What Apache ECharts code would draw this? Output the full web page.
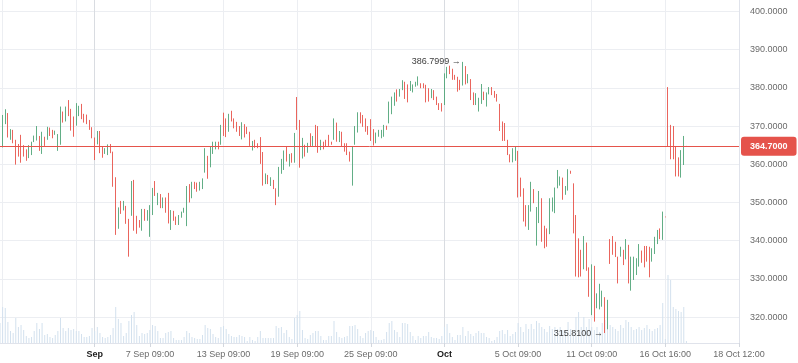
<!DOCTYPE html>
<html><head><meta charset="utf-8">
<script src="https://cdn.jsdelivr.net/npm/echarts@6/dist/echarts.min.js"></script>
<style>html,body{margin:0;padding:0;background:#fff}#c{width:798px;height:363px}</style>
</head><body><div id="c"></div>
<script>
// candle open / close values, one per slot (left to right)
const opens = [
356.8,364.4,370.5,373.4,366.4,369.0,366.4,365.3,367.7,365.0,
363.9,361.6,362.4,365.8,366.2,367.4,362.7,367.2,366.4,369.6,
369.0,367.7,363.5,365.1,373.8,371.2,376.8,374.5,372.5,370.1,
372.6,375.8,373.2,373.0,371.6,369.7,367.0,365.2,368.7,364.6,
362.7,362.4,365.3,363.3,356.6,343.1,350.4,347.9,349.1,345.7,
346.5,355.9,346.5,345.4,342.6,348.3,345.2,341.0,346.7,355.6,
349.3,352.2,348.5,351.3,352.5,342.8,347.8,346.3,344.1,346.0,
347.3,343.8,354.8,351.1,355.4,355.2,353.1,353.5,357.8,362.2,
359.2,362.7,363.9,365.9,365.1,373.5,372.0,368.5,374.0,372.0,
371.1,370.0,366.5,370.5,369.8,368.5,363.6,366.4,365.5,367.1,
363.2,354.8,357.2,354.3,355.9,353.7,351.5,357.5,358.5,364.6,
359.4,362.9,360.4,377.6,371.6,361.5,365.1,363.0,368.1,364.8,
370.3,370.0,363.7,365.9,366.4,367.7,365.9,366.4,370.9,365.8,
368.5,365.5,365.5,363.3,354.4,365.1,368.3,373.6,372.9,372.0,
370.0,371.8,369.2,365.5,367.2,366.8,367.2,370.1,370.7,373.1,
375.3,379.6,377.7,379.4,381.6,380.9,379.2,378.8,380.3,380.6,
381.2,381.2,380.8,379.9,377.3,379.4,377.7,376.0,376.0,375.5,
382.5,385.8,385.0,383.4,382.9,382.1,380.6,385.7,381.2,382.3,
378.8,375.5,373.8,375.8,379.0,375.1,378.3,380.2,379.2,378.4,
375.8,371.2,370.8,366.4,362.6,360.5,360.9,363.5,356.5,353.7,
349.3,342.8,347.6,353.5,338.7,344.6,351.1,343.9,343.2,341.7,
347.6,347.2,353.7,354.4,356.5,352.0,353.1,358.3,355.0,346.7,
340.6,337.6,332.5,339.5,333.0,320.5,333.4,322.3,322.0,322.7,
325.2,316.8,340.4,341.2,339.7,335.8,335.8,337.6,335.1,338.9,
326.9,329.7,331.0,333.2,337.4,338.6,338.6,338.4,334.5,336.5,
339.1,343.2,340.2,346.3,380.2,370.3,370.0,364.6,361.8,356.5,
359.8,364.8
];
const closes = [
359.0,372.9,374.4,367.0,369.2,365.5,359.9,362.0,360.4,362.0,
360.9,365.0,365.9,367.5,370.0,363.5,368.5,364.8,369.8,367.4,
366.8,368.8,367.9,375.1,370.9,375.1,372.6,368.8,367.2,376.0,
375.3,371.8,370.9,370.5,369.0,366.8,361.1,368.7,362.9,361.7,
364.2,365.2,362.9,354.1,341.5,348.7,347.0,350.4,344.4,335.8,
355.6,342.6,341.8,343.4,348.3,345.2,348.0,349.3,353.8,351.7,
352.5,348.5,351.3,347.3,344.5,348.0,345.2,344.1,346.7,347.6,
348.6,354.3,350.0,355.4,353.5,352.8,355.4,356.3,364.2,356.2,
364.6,365.9,365.9,363.9,370.3,367.4,367.1,373.2,371.2,369.4,
368.5,367.4,371.0,367.0,367.9,364.8,366.1,364.3,364.2,360.1,
354.4,357.6,354.8,356.6,353.5,349.3,359.3,361.4,363.6,360.7,
362.7,360.4,368.2,369.0,359.1,366.9,362.0,365.6,364.6,367.4,
364.5,363.0,366.4,363.9,364.6,364.8,365.1,372.0,365.9,368.7,
364.6,363.3,362.4,360.7,364.6,370.0,373.6,370.7,369.8,368.5,
367.7,366.1,364.9,368.3,369.0,369.0,370.3,369.0,376.4,377.7,
378.8,376.4,379.7,382.0,377.1,376.2,381.8,380.9,381.6,383.0,
379.9,379.9,376.2,376.4,379.7,376.8,375.5,374.2,373.8,383.8,
385.5,383.6,382.1,382.1,379.0,379.4,386.7999,380.9,383.6,376.8,
375.5,378.6,377.4,381.0,376.8,378.8,380.2,378.1,377.4,376.4,
368.7,366.1,366.1,362.4,360.5,364.2,364.6,351.3,351.5,345.0,
343.7,349.3,355.4,349.8,348.8,353.0,339.7,338.0,338.4,351.1,
351.3,353.9,358.5,356.8,350.7,354.3,358.7,357.5,341.9,330.6,
330.4,330.6,341.2,332.1,325.3,333.8,318.8,326.2,328.7,326.9,
315.81,324.5,333.9,336.3,335.7,328.8,338.4,333.6,340.4,328.8,
335.8,335.8,335.4,339.1,334.2,333.0,334.5,330.4,338.0,341.0,
342.8,340.4,347.6,346.1,364.6,361.3,361.3,356.8,356.8,363.7,
367.4,364.7
];
// volume (relative units)
const volumes = [
20,36,35,21,12,10,25,16,18,13,7,5,6,12,20,14,20,8,9,6,
5,8,12,25,15,12,15,13,14,12,12,9,6,6,7,15,12,16,10,6,
5,6,8,15,36,24,20,7,10,22,28,31,18,7,10,9,10,13,18,17,
12,5,5,10,11,12,5,3,3,3,6,12,10,6,5,4,4,8,18,15,
14,9,6,5,16,17,14,9,7,6,6,8,7,6,2,6,3,2,6,12,
5,5,5,5,5,17,15,16,10,13,6,4,25,28,32,13,5,4,8,10,
12,12,7,3,3,7,7,22,11,6,5,6,7,17,17,18,14,7,5,10,
12,13,12,6,3,3,4,11,20,22,13,11,6,20,20,19,11,7,3,7,
5,7,7,11,6,5,5,4,7,16,19,10,6,3,8,8,16,7,12,9,
7,10,12,10,10,6,5,2,3,6,12,13,9,13,7,9,11,20,16,11,
19,14,19,14,22,20,16,14,11,17,14,16,14,16,13,12,21,14,12,26,
31,16,26,16,24,16,13,16,11,20,23,26,18,16,14,12,18,15,23,21,
16,13,14,16,13,15,18,14,12,14,15,18,40,4,68,63,36,34,32,31,
36,2
];
const slotCount = 282;
const tickIndex = [36,57,85,113,141,169,197,225,253,281];
const tickLabels = ['Sep','7 Sep 09:00','13 Sep 09:00','19 Sep 09:00','25 Sep 09:00','Oct','5 Oct 09:00','11 Oct 09:00','16 Oct 16:00','18 Oct 12:00'];
const monthIndex = [36,169];
const gridLineIndex = [1,29,36,57,85,113,141,169,197,225,253,281];
const priceTicks = [320,330,340,350,360,370,380,390,400];
const priceMin = 313.2, priceMax = 403.0;
const lastPrice = 364.7;

const UP = '#50a578', DOWN = '#e8534b', PRICE = '#e5534b';
const slots = Array.from({length: slotCount}, (_, i) => String(i));
const candles = opens.map((o, i) => [o, closes[i], Math.min(o, closes[i]), Math.max(o, closes[i])]);
const lineColors = gridLineIndex.map(i => monthIndex.includes(i) ? '#d9dce1' : '#eceef2');
const FONT = 'Liberation Sans';

const chart = echarts.init(document.getElementById('c'), null, {renderer: 'canvas'});
chart.setOption({
  animation: false,
  backgroundColor: '#ffffff',
  textStyle: {fontFamily: FONT},
  grid: {left: 0, right: 59, top: 0, bottom: 20, containLabel: false, outerBoundsMode: 'none'},
  xAxis: {
    type: 'category', data: slots, boundaryGap: false,
    axisLine: {show: true, lineStyle: {color: '#e0e3eb', width: 1}},
    axisTick: {show: true, length: 4, interval: (i) => tickIndex.includes(i), lineStyle: {color: '#d3d7de'}},
    axisLabel: {
      interval: (i) => tickIndex.includes(i), margin: 7, fontSize: 9, color: '#6b6b6b', fontFamily: FONT,
      formatter: (v, i) => {
        const k = tickIndex.indexOf(Number(v));
        if (k < 0) return '';
        return monthIndex.includes(Number(v)) ? '{m|' + tickLabels[k] + '}' : tickLabels[k];
      },
      rich: {m: {color: '#1b1b1b', fontWeight: 'bold', fontSize: 9, fontFamily: FONT}}
    },
    splitLine: {show: true, interval: (i) => gridLineIndex.includes(i), lineStyle: {color: lineColors, width: 1}}
  },
  yAxis: [{
    type: 'value', position: 'right', min: priceMin, max: priceMax, scale: true,
    axisLine: {show: true, lineStyle: {color: '#e0e3eb'}},
    axisTick: {show: false, customValues: priceTicks},
    axisLabel: {customValues: priceTicks, margin: 11, fontSize: 9, color: '#6b6b6b', fontFamily: FONT,
      formatter: (v) => Number(v).toFixed(4)},
    splitLine: {show: true, lineStyle: {color: '#eceef2', width: 1}}
  }, {
    type: 'value', min: 0, max: 343, show: false, splitLine: {show: false}
  }],
  series: [{
    type: 'bar', name: 'volume', yAxisIndex: 1, data: volumes, barWidth: 1,
    itemStyle: {color: '#d3e1ee'}, silent: true, z: 1
  }, {
    type: 'candlestick', name: 'price', data: candles, barWidth: 1, z: 3,
    itemStyle: {color: UP, color0: DOWN, borderColor: UP, borderColor0: DOWN, borderWidth: 0.9},
    markLine: {
      silent: true, symbol: ['none', 'none'], animation: false,
      lineStyle: {color: PRICE, width: 1, type: 'solid'},
      label: {show: true, position: 'end', distance: 2, formatter: () => lastPrice.toFixed(4),
        backgroundColor: PRICE, color: '#ffffff', fontSize: 9, fontWeight: 'bold', fontFamily: FONT,
        padding: [5, 9, 5, 9], borderRadius: 3},
      data: [{yAxis: lastPrice}]
    },
    markPoint: {
      silent: true, symbol: 'circle', symbolSize: 1, itemStyle: {color: 'rgba(0,0,0,0)'},
      label: {show: true, position: 'left', distance: 1.5, fontSize: 9, color: '#3d3d3d', fontFamily: FONT,
        formatter: (p) => Number(p.value).toFixed(4) + ' \u2192'},
      data: [{type: 'max', valueDim: 'highest'}, {type: 'min', valueDim: 'lowest'}]
    }
  }]
});
</script>
</body></html>
